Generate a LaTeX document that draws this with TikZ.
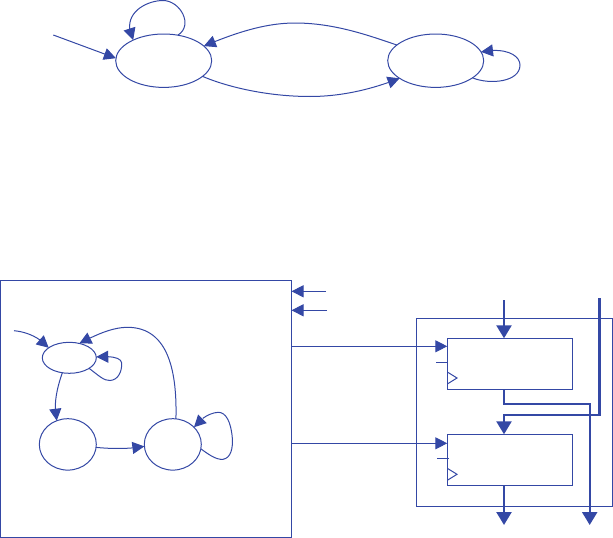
\documentclass[tikz,border=0pt]{standalone}
\usetikzlibrary{positioning, arrows.meta, bending, calc, shapes.geometric}
\definecolor{wire}{RGB}{52,72,165}

\begin{document}
\begin{tikzpicture}[
    x=1pt, y=-1pt,
    >={Triangle[length=12pt,width=12pt,flex]},
    thin wire/.style={draw=wire, line width=1pt},
    bus/.style={draw=wire, line width=2.4pt, -{Triangle[length=13pt,width=15pt]}},
    bigstate/.style={draw=wire, ellipse, line width=1pt, inner sep=0pt, outer sep=0pt, minimum width=96pt, minimum height=53.4pt},
    midstate/.style={draw=wire, ellipse, line width=1pt, inner sep=0pt, outer sep=0pt, minimum width=57pt, minimum height=51.4pt},
    smallstate/.style={draw=wire, ellipse, line width=1pt, inner sep=0pt, outer sep=0pt, minimum width=54pt, minimum height=31pt},
    register/.style={draw=wire, rectangle, line width=1pt, inner sep=0pt, outer sep=0pt, minimum width=125.4pt, minimum height=51pt},
    every path/.style={wire},
]
\useasboundingbox (0,0) rectangle (613,538);

% Upper state graph
\node[bigstate] (idle) at (163.7,60.7) {};
\node[bigstate, right=176pt of idle] (busy) {};
\coordinate (init) at (53.3,35);

\draw[thin wire, ->] (init) -- (idle.177);
\draw[thin wire, ->] (idle.61) .. controls (194,25) and (180,0.5) .. (163,0.5) .. controls (146,0.5) and (120,14) .. (idle.146);
\draw[thin wire, ->] (busy.158) .. controls (370,36) and (335,23) .. (295,23) .. controls (265,23) and (235,33) .. (idle.20);
\draw[thin wire, ->] (idle.-22) .. controls (230,88) and (270,96.5) .. (310,96.5) .. controls (340,96.5) and (370,90) .. (busy.206);
\draw[thin wire, ->] (busy.-25) .. controls (490,85) and (520,82) .. (520,65) .. controls (520,55) and (505,47) .. (busy.11);

% Controller box
\node[draw=wire, rectangle, line width=1pt, outer sep=0pt, minimum width=291pt, minimum height=257pt] (ctrl) at (146,409) {};
\node[smallstate] (sa) at (69.3,357.8) {};
\node[midstate, below=45.4pt of sa, xshift=-1.5pt] (sb) {};
\node[midstate, right=48pt of sb] (sc) {};
\coordinate (start) at (14,330.7);

\draw[thin wire, ->] (start) .. controls (28,332) and (40,338) .. (sa.154);
\draw[thin wire, ->] (sa.-28) .. controls (98,375) and (104,381) .. (110,380.5) .. controls (118,380) and (122,372) .. (121.7,363) .. controls (121,357) and (110,356) .. (sa.2);
\draw[thin wire, ->] (sa.-115) .. controls (57,388) and (53,405) .. (sb.115);
\draw[thin wire, ->] (sb.-6) .. controls (112,449) and (130,449) .. (sc.184);
\draw[thin wire, ->] (sc.83) .. controls (177,375) and (170,327) .. (127,327.3) .. controls (110,327.5) and (92,337) .. (sa.55);
\draw[thin wire, ->] (sc.-9) .. controls (208,454) and (216,460) .. (223,459.3) .. controls (231,458) and (233,448) .. (232.3,438) .. controls (231,422) and (226,412) .. (218,412.3) .. controls (208,413) and (198,421) .. (sc.39);

% Inputs of the controller
\coordinate (ina) at (326,291.3);
\coordinate (inb) at (327,310.3);
\draw[thin wire, ->] (ina) -- (ina -| ctrl.east);
\draw[thin wire, ->] (inb) -- (inb -| ctrl.east);

% Datapath
\node[draw=wire, rectangle, line width=1pt, outer sep=0pt, minimum width=196.4pt, minimum height=188pt] (path) at (514.5,412.3) {};
\node[register] (rega) at (510,363.8) {};
\node[register, below=45pt of rega] (regb) {};

% Clock marks and short stubs
\draw[thin wire] (rega.south west) ++(0,-5.3) -- ++(9.7,-6) -- ++(-9.7,-6);
\draw[thin wire] (regb.south west) ++(0,-5) -- ++(9.7,-6) -- ++(-9.7,-6);
\coordinate (ena) at (436,362.3);
\coordinate (enb) at (437,458.3);
\draw[thin wire] (ena) -- (ena -| rega.west);
\draw[thin wire] (enb) -- ++(12,0);

% Control lines
\coordinate (loada) at (447.3,346.3);
\coordinate (loadb) at (447.3,443.3);
\draw[thin wire, ->] (ctrl.east |- loada) -- (loada);
\draw[thin wire, ->] (ctrl.east |- loadb) -- (loadb);

% Buses
\coordinate (busa) at (504,300);
\coordinate (busb) at (599.3,298);
\coordinate (outa) at (504,525);
\coordinate (outb) at (589.7,525);
\draw[bus] (busa) -- (busa |- rega.north);
\draw[bus] (busb) |- (504,415) -- (busa |- regb.north);
\draw[bus] (busa |- rega.south) -- (504,403.7) -| (outb);
\draw[bus] (busa |- regb.south) -- (outa);

\end{tikzpicture}
\end{document}
